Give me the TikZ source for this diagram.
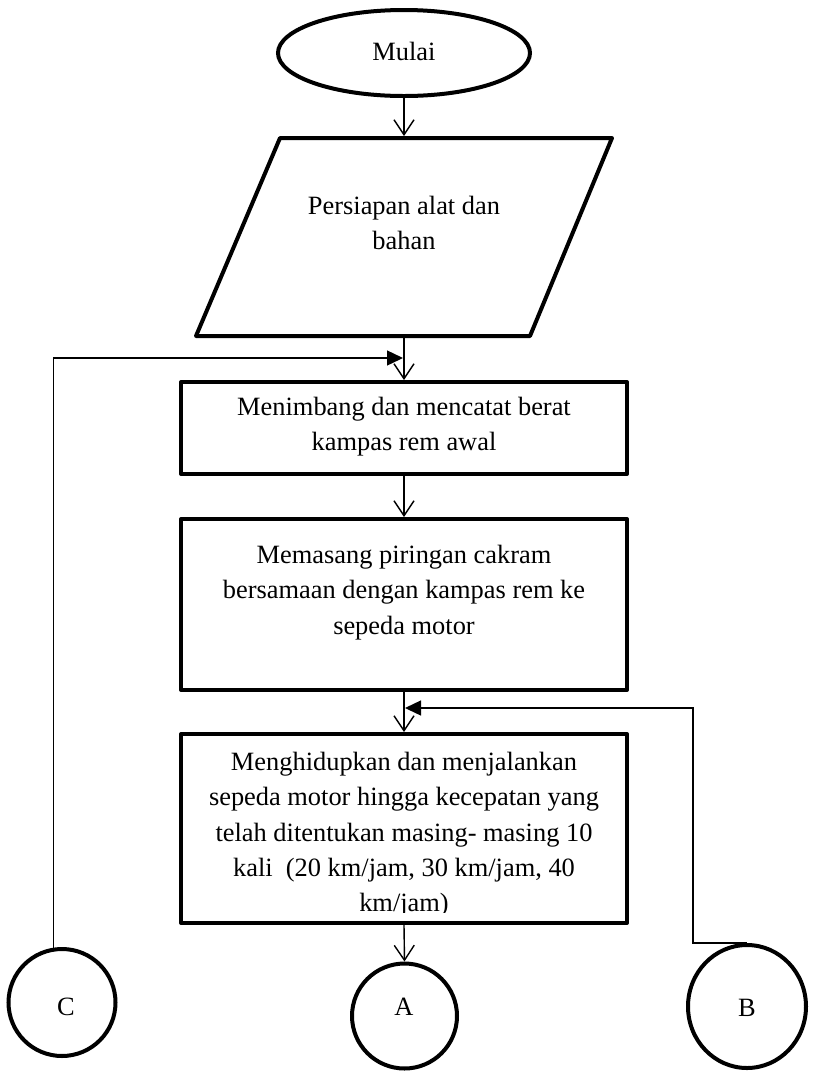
\documentclass[tikz,border=0pt]{standalone}
\usepackage{fontspec}
\setmainfont{Liberation Serif}
\usetikzlibrary{shapes.geometric,arrows.meta}
\begin{document}
\begin{tikzpicture}[x=1pt,y=-1pt,
  box/.style={draw,line width=4pt,line join=round,rectangle,minimum width=446pt,inner sep=0pt},
  term/.style={draw,line width=4pt,ellipse,inner sep=0pt},
  conn/.style={draw,line width=4pt,circle,inner sep=0pt},
  txt/.style={font=\fontsize{26.4}{35.3}\selectfont,align=center,inner sep=0pt,anchor=north},
  lbl/.style={font=\fontsize{26.4}{35.3}\selectfont,inner sep=0pt,anchor=base},
  flow/.style={line width=1.4pt,-{Straight Barb[length=15pt,width=20pt]}},
  back/.style={line width=1.4pt,-{Triangle[length=16pt,width=15pt]}}]

\useasboundingbox (0,0) rectangle (813,1072);

% start terminal
\node[term,minimum width=252pt,minimum height=86pt] (mulai) at (404,53) {};
\node[lbl] (mulaitxt) at (404,60) {Mulai};

% input / preparation
\draw[line width=4pt,line join=round] (280,138) -- (612,138) -- (530,336) -- (196,336) -- cycle;
\coordinate (ptop) at (404,136);
\coordinate (pbot) at (404,338);
\node[txt] (persiapan) at (404,196) {Persiapan alat dan\\bahan};

% process steps
\node[box,minimum height=92pt] (b1) at (404,428) {};
\node[txt] (b1txt) at (404,397) {Menimbang dan mencatat berat\\kampas rem awal};

\node[box,minimum height=171pt] (b2) at (404,604.5) {};
\node[txt] (b2txt) at (404,545) {Memasang piringan cakram\\bersamaan dengan kampas rem ke\\sepeda motor};

\node[box,minimum height=189pt] (b3) at (404,828.5) {};
\begin{scope}
  \clip (181,736) rectangle (627,912);
  \node[txt] (b3txt) at (404,752) {Menghidupkan dan menjalankan\\sepeda motor hingga kecepatan yang\\telah ditentukan masing- masing 10\\kali\ \ (20 km/jam, 30 km/jam, 40\\km/jam)};
\end{scope}

% connectors
\node[conn,minimum size=107pt] (C) at (62,1002.5) {};
\node[lbl] (Ctxt) at (66,1015) {C};
\node[conn,minimum size=105pt] (A) at (404.5,1016) {};
\node[lbl] (Atxt) at (404,1015) {A};
\node[term,minimum width=118pt,minimum height=123pt] (B) at (747,1006.5) {};
\node[lbl] (Btxt) at (747,1016) {B};

% main flow
\draw[flow] (mulai.south) -- (ptop);
\draw[flow] (pbot) -- (b1.north);
\draw[flow] (b1.south) -- (b2.north);
\draw[flow] (b2.south) -- (b3.north);
\draw[flow] (b3.south) -- (A.north);

% return paths
\coordinate (loopC) at (403,358);
\draw[back] (C.99) |- (loopC);
\coordinate (bx) at (693,708);
\coordinate (loopB) at (405,708);
\draw[back] (B.north) -| (bx) -- (loopB);

\end{tikzpicture}
\end{document}
